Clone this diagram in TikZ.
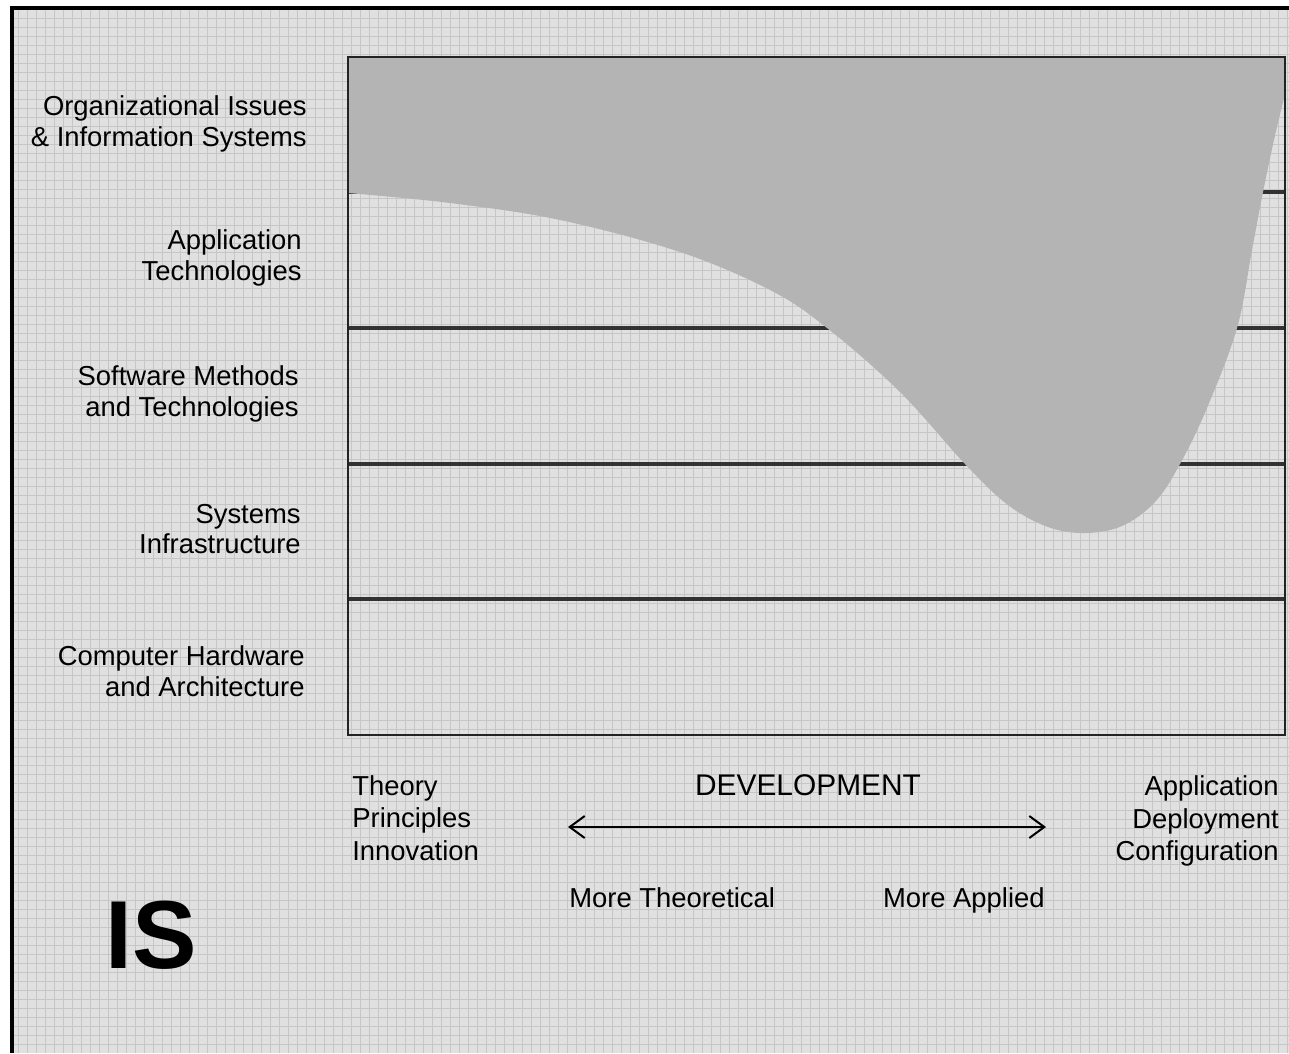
\documentclass[tikz,border=0pt]{standalone}
\usepackage{fontspec}
\setmainfont{Liberation Sans}
\usetikzlibrary{arrows.meta}
\definecolor{paper}{RGB}{224,224,224}
\definecolor{gridc}{RGB}{198,198,198}
\definecolor{regionfill}{RGB}{180,180,180}
\definecolor{rule}{RGB}{50,50,50}

\begin{document}
\begin{tikzpicture}[x=0.2mm, y=-0.2mm,
  lbl/.style={inner sep=0pt, font=\fontsize{15.6}{17.4}\selectfont, text=black},
  layer/.style={lbl, anchor=east, align=right},
  rowline/.style={draw=rule, line width=0.65mm},
  boxline/.style={draw=rule!70!black, line width=0.55mm},
  arr/.style={{Straight Barb[length=3mm, width=4.4mm]}-{Straight Barb[length=3mm, width=4.4mm]}, line width=0.4mm},
]
  \useasboundingbox (0,0) rectangle (1289,1053);

  % ---- Background paper ----
  \fill[paper] (12,8) rectangle (1289,1053);
  \draw[gridc, line width=0.2mm, step=1.8mm] (12,8) grid (1289,1053);
  \draw[black, line width=0.8mm] (12,1053) -- (12,8) -- (1289,8);

  % ---- Layers ----
  \draw[rowline] (348,192) -- (1285,192);
  \draw[rowline] (348,328) -- (1285,328);
  \draw[rowline] (348,464) -- (1285,464);
  \draw[rowline] (348,599) -- (1285,599);

  % ---- Shaded region ----
  \fill[regionfill] (348,57) -- (348,193)
    -- plot[smooth, tension=0.6] coordinates {(348,193) (450,203) (560,220) (680,252)
       (770,290) (827,328) (900,392) (965,464) (1008,505) (1048,527) (1085,533)
       (1122,526) (1155,502) (1180,464) (1207,408) (1237,328) (1252,250)
       (1263,192) (1274,140) (1284,98)}
    -- (1285,57) -- cycle;
  \draw[boxline] (348,57) rectangle (1285,735);

  % ---- Layer labels ----
  \node[layer] (org) at (307,124) {Organizational Issues\\\& Information Systems};
  \node[layer] (app) at (302,258) {Application\\Technologies};
  \node[layer] (soft) at (299,394) {Software Methods\\and Technologies};
  \node[layer] (sys) at (301,529) {Systems\\Infrastructure};
  \node[layer] (hw) at (305,671) {Computer Hardware\\and Architecture};

  % ---- Development axis ----
  \node[lbl, anchor=west, align=left, font=\fontsize{15.6}{18.6}\selectfont] (theory) at (352,818)
      {Theory\\Principles\\Innovation};
  \node[lbl, anchor=east, align=right, font=\fontsize{15.6}{18.6}\selectfont] (deploy) at (1279,821)
      {Application\\Deployment\\Configuration};
  \node[lbl, font=\fontsize{17}{19}\selectfont] (dev) at (808,785) {DEVELOPMENT};
  \coordinate (left) at (568,827);
  \coordinate (right) at (1046,827);
  \draw[arr] (left) -- (right);
  \node[lbl, anchor=base west] (theo) at (569,907) {More Theoretical};
  \node[lbl, anchor=base east] (appl) at (1045,907) {More Applied};

  \node[inner sep=0pt, font=\fontsize{55}{60}\selectfont\bfseries] (is) at (151,935) {IS};
\end{tikzpicture}
\end{document}
